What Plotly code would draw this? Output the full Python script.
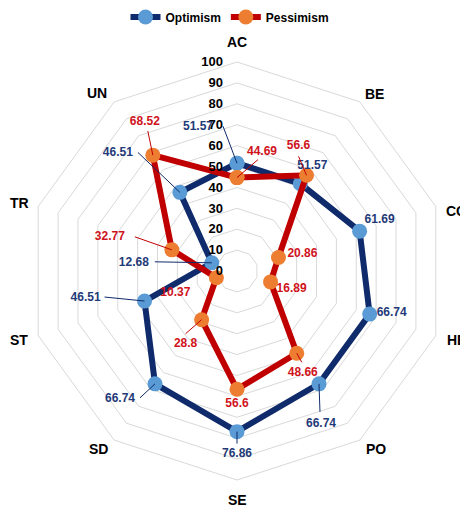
import math
import plotly.graph_objects as go

categories = ["AC", "BE", "CO", "HE", "PO", "SE", "SD", "ST", "TR", "UN"]
optimism = [51.57, 51.57, 61.69, 66.74, 66.74, 76.86, 66.74, 46.51, 12.68, 46.51]
pessimism = [44.69, 56.6, 20.86, 16.89, 48.66, 56.6, 28.8, 10.37, 32.77, 68.52]
radial_ticks = [0, 10, 20, 30, 40, 50, 60, 70, 80, 90, 100]

# --- styling / layout parameters ---
W, H = 460, 510
CX, CY, RAD = 237, 271, 209          # polar centre and radius (px)
SCALE = RAD / 100.0                  # px per data unit
FONT = "Liberation Sans"
NAVY, LBLUE = "#0f2b6b", "#5b9bd5"
RED, ORANGE = "#c00000", "#ed7d31"
NAVY_TXT, RED_TXT = "#1f3a78", "#d0121b"

# category label offsets (px, right/down) from the outer ring vertex
cat_off = [(0, -20), (15, -8), (21, 5), (21, 4), (16, 9), (0, 20), (-16, 9), (-19, 4), (-19, -3), (-17, -9)]
# data label offsets (px, right/down) from each marker, and leader starts
opt_lab = [(-39, -36), (12, -18), (20, -11), (22, -1), (2, 40), (0, 22), (-35, 15), (-59, -3), (-78, 0), (-62, -39)]
pes_lab = [(25, -26), (-8, -29), (24, -4), (21, 7), (6, 20), (0, 15), (-16, 24), (-41, 15), (-62, -13), (-8, -33)]
opt_lead = {0: (-14, -37), 4: (1, 28), 5: (0, 12), 6: (-15, 14), 7: (-40, -4), 8: (-57, -1), 9: (-42, -40)}
pes_lead = {0: (21, -18), 1: (-8, -19), 4: (5, 9), 6: (-16, 14), 8: (-37, -13), 9: (-5, -24)}

N = len(categories)


def shift(r, idx, dx, dy):
    th = math.radians(idx * 360 / N)
    x = r * math.sin(th) + dx / SCALE
    y = r * math.cos(th) - dy / SCALE
    return math.hypot(x, y), math.degrees(math.atan2(x, y)) % 360


fig = go.Figure()

for name, vals, lc, mc in [("Optimism", optimism, NAVY, LBLUE), ("Pessimism", pessimism, RED, ORANGE)]:
    fig.add_trace(go.Scatterpolar(
        r=vals + vals[:1], theta=categories + categories[:1], name=name,
        mode="lines+markers", line=dict(color=lc, width=6),
        marker=dict(color=mc, size=15, line=dict(width=0)),
        subplot="polar", cliponaxis=False))

# leader lines and labels on overlay polar
for vals, leads, labs, col, tcol in [(optimism, opt_lead, opt_lab, NAVY, NAVY_TXT),
                                     (pessimism, pes_lead, pes_lab, RED, RED_TXT)]:
    for i, (dx, dy) in leads.items():
        r0, t0 = shift(vals[i], i, dx, dy)
        r1, t1 = shift(vals[i], i, 0, 0)
        fig.add_trace(go.Scatterpolar(
            r=[r0, r1], theta=[t0, t1], mode="lines", subplot="polar2",
            line=dict(color=col, width=1), showlegend=False, hoverinfo="skip",
            cliponaxis=False))
    rs, ts = [], []
    for i, (dx, dy) in enumerate(labs):
        rr, tt = shift(vals[i], i, dx, dy)
        rs.append(rr)
        ts.append(tt)
    fig.add_trace(go.Scatterpolar(
        r=rs, theta=ts, mode="text", text=[f"{v:g}" for v in vals],
        textfont=dict(family=FONT, size=12, color=tcol, weight="bold"),
        textposition="middle center", subplot="polar2", showlegend=False,
        hoverinfo="skip", cliponaxis=False))

# category labels just outside the outer ring
for i, cat in enumerate(categories):
    th = math.radians(i * 360 / N)
    dx, dy = cat_off[i]
    fig.add_annotation(
        x=(CX + RAD * math.sin(th) + dx) / W,
        y=1 - (CY - RAD * math.cos(th) + dy) / H,
        xref="paper", yref="paper", text=cat, showarrow=False,
        xanchor="center", yanchor="middle",
        font=dict(family=FONT, size=14, color="black", weight="bold"))

dom_x = [(CX - RAD) / W, (CX + RAD) / W]
dom_y = [(H - CY - RAD) / H, (H - CY + RAD) / H]

fig.update_layout(
    width=W, height=H, margin=dict(l=0, r=0, t=0, b=0),
    paper_bgcolor="white", plot_bgcolor="white",
    font=dict(family=FONT, color="black"),
    showlegend=True,
    legend=dict(orientation="h", x=0.5, xanchor="center", y=0.995, yanchor="top",
                font=dict(family=FONT, size=12, color="black", weight="bold"),
                itemwidth=30, tracegroupgap=0, bgcolor="rgba(0,0,0,0)"),
    polar=dict(
        domain=dict(x=dom_x, y=dom_y), bgcolor="rgba(0,0,0,0)", gridshape="linear",
        radialaxis=dict(range=[0, 100], tickvals=radial_ticks, angle=90,
                        showline=False, showgrid=True, gridcolor="#d9d9d9", gridwidth=1,
                        ticks="outside", ticklen=9, tickcolor="rgba(0,0,0,0)",
                        side="counterclockwise", tickangle=90,
                        tickfont=dict(family=FONT, size=13, color="black", weight="bold")),
        angularaxis=dict(type="category", categoryarray=categories, rotation=90,
                         direction="clockwise", showgrid=False, showline=True,
                         linecolor="#d9d9d9", linewidth=1, ticks="",
                         showticklabels=False),
    ),
    polar2=dict(
        domain=dict(x=dom_x, y=dom_y), bgcolor="rgba(0,0,0,0)",
        radialaxis=dict(range=[0, 100], visible=False),
        angularaxis=dict(rotation=90, direction="clockwise", thetaunit="degrees", visible=False),
    ),
)

fig.write_html("out.html")
